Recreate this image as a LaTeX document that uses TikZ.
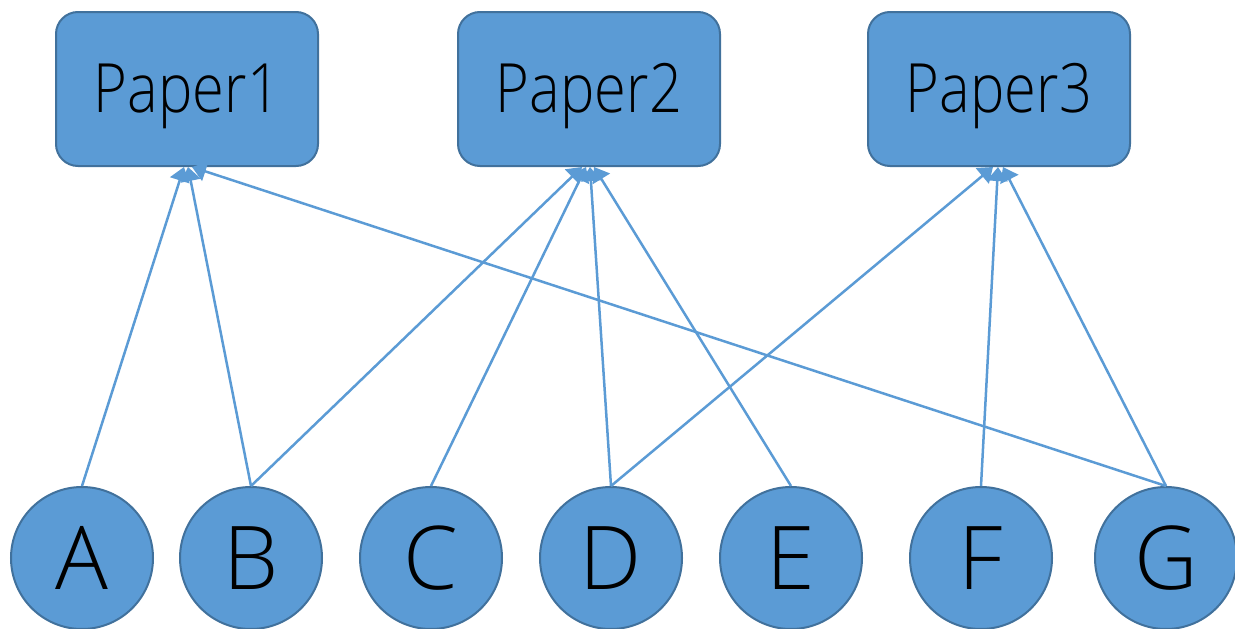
\documentclass[tikz,border=0pt]{standalone}
\usepackage{fontspec}
\setmainfont{Open Sans}[UprightFont=* Light]
\usetikzlibrary{arrows.meta}
\definecolor{fillb}{HTML}{5B9BD5}
\definecolor{edgeb}{HTML}{41719C}
\tikzset{
  paper/.style={draw=edgeb, line width=2pt, fill=fillb, rounded corners=22pt,
    minimum width=262pt, minimum height=154pt, inner sep=0pt,
    text height=56pt, text depth=10pt,
    font=\fontsize{68}{70}\selectfont},
  person/.style={circle, draw=edgeb, line width=2pt, fill=fillb,
    minimum size=142pt, inner sep=0pt, font=\fontsize{88}{90}\selectfont},
  link/.style={draw=fillb, line width=2.5pt, -{Triangle[width=20pt,length=14pt]}}
}
\begin{document}
\begin{tikzpicture}[x=1pt,y=-1pt]
\useasboundingbox (0,0) rectangle (1235,629);
\node[paper] (P1) at (187,89) {\scalebox{0.85}[1]{Paper1}};
\node[paper] (P2) at (589,89) {\scalebox{0.85}[1]{Paper2}};
\node[paper] (P3) at (999,89) {\scalebox{0.85}[1]{Paper3}};
\node[person] (A) at (82,558) {A};
\node[person] (B) at (251,558) {B};
\node[person] (C) at (431,558) {C};
\node[person] (D) at (611,558) {D};
\node[person] (E) at (791,558) {E};
\node[person] (F) at (981,558) {F};
\node[person] (G) at (1166,558) {G};
\coordinate (t1a) at (184,167);
\coordinate (t1b) at (188,167);
\coordinate (t1g) at (192,167);
\coordinate (t2b) at (582,167);
\coordinate (t2c) at (586,167);
\coordinate (t2d) at (590,167);
\coordinate (t2e) at (594,167);
\coordinate (t3d) at (993,167);
\coordinate (t3f) at (998,167);
\coordinate (t3g) at (1003,167);
\draw[link] (A.north) -- (t1a);
\draw[link] (B.north) -- (t1b);
\draw[link] (G.north) -- (t1g);
\draw[link] (B.north) -- (t2b);
\draw[link] (C.north) -- (t2c);
\draw[link] (D.north) -- (t2d);
\draw[link] (E.north) -- (t2e);
\draw[link] (D.north) -- (t3d);
\draw[link] (F.north) -- (t3f);
\draw[link] (G.north) -- (t3g);
\end{tikzpicture}
\end{document}
